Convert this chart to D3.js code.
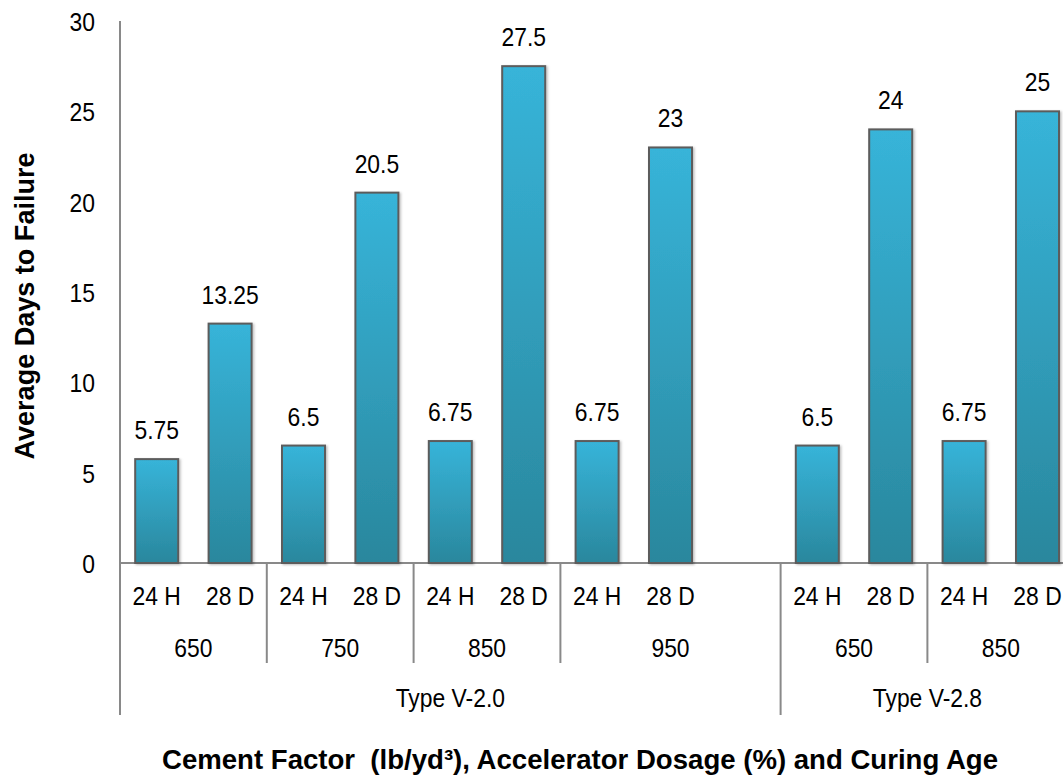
<!DOCTYPE html>
<html>
<head>
<meta charset="utf-8">
<script src="https://cdn.jsdelivr.net/npm/d3@7"></script>
<style>
  html, body { margin: 0; padding: 0; background: #fff; }
  svg { display: block; }
  text { font-family: "Liberation Sans Narrow", "Arial Narrow", "Liberation Sans", Arial, sans-serif; fill: #000; }
</style>
</head>
<body>
<svg id="chart" width="1063" height="781"></svg>
<script>
// Curing age per slot (the empty slot keeps the gap after the 950 group)
const ageLabels = ["24 H", "28 D", "24 H", "28 D", "24 H", "28 D", "24 H", "28 D", "", "24 H", "28 D", "24 H", "28 D"];
// Cement factor (lb/yd³) per slot
const cementLabels = ["650", "650", "750", "750", "850", "850", "950", "950", "950", "650", "650", "850", "850"];
// Accelerator type / dosage per slot
const typeLabels = ["Type V-2.0", "Type V-2.0", "Type V-2.0", "Type V-2.0", "Type V-2.0", "Type V-2.0", "Type V-2.0", "Type V-2.0", "Type V-2.0",
                    "Type V-2.8", "Type V-2.8", "Type V-2.8", "Type V-2.8"];
// Average days to failure per slot
const daysToFailure = [5.75, 13.25, 6.5, 20.5, 6.75, 27.5, 6.75, 23, null, 6.5, 24, 6.75, 25];
const yTicks = [0, 5, 10, 15, 20, 25, 30];

const svg = d3.select("#chart");
const x0 = 120, step = 73.4;
const slots = d3.range(ageLabels.length);
const labelSize = 26, squeeze = 0.88;

const x = d3.scaleBand()
  .domain(slots)
  .range([x0, x0 + step * slots.length])
  .paddingInner(0.414)
  .paddingOuter(0.207);

const y = d3.scaleLinear().domain([0, 30]).range([563, 21]);

// narrow the glyphs horizontally around each text's anchor point
function condense(sel, sx = squeeze) {
  sel.each(function () {
    const t = d3.select(this);
    const tx = +t.attr("x") || 0, ty = +t.attr("y") || 0;
    t.attr("x", 0).attr("y", 0)
      .attr("transform", `translate(${tx},${ty}) scale(${sx},1)`);
  });
}

// vertical gradient applied to each bar
const defs = svg.append("defs");
const grad = defs.append("linearGradient")
  .attr("id", "barFill").attr("x1", 0).attr("y1", 0).attr("x2", 0).attr("y2", 1);
grad.append("stop").attr("offset", "0%").attr("stop-color", "#37b4d9");
grad.append("stop").attr("offset", "100%").attr("stop-color", "#2a879d");

const shadow = defs.append("filter").attr("id", "barShadow")
  .attr("x", "-20%").attr("y", "-5%").attr("width", "140%").attr("height", "110%");
shadow.append("feDropShadow").attr("dx", 1.5).attr("dy", 1).attr("stdDeviation", 1.2)
  .attr("flood-color", "#000").attr("flood-opacity", 0.25);

// y axis labels (no tick marks)
const yAxis = svg.append("g")
  .attr("transform", `translate(${x0},0)`)
  .call(d3.axisLeft(y).tickValues(yTicks).tickSize(0).tickPadding(25));
yAxis.select(".domain").remove();
yAxis.selectAll("text")
  .attr("font-size", labelSize)
  .attr("font-family", null)
  .attr("dy", "0.36em")
  .call(condense);

// axis lines
const axisColor = "#898989";
svg.append("line")
  .attr("x1", x0).attr("x2", x0)
  .attr("y1", y(30)).attr("y2", 715)
  .attr("stroke", axisColor).attr("stroke-width", 2);
svg.append("line")
  .attr("x1", x0).attr("x2", x0 + step * slots.length)
  .attr("y1", y(0)).attr("y2", y(0))
  .attr("stroke", axisColor).attr("stroke-width", 2);

// bars
const barData = slots.filter(i => daysToFailure[i] != null);
svg.append("g").selectAll("rect")
  .data(barData)
  .join("rect")
  .attr("x", i => x(i))
  .attr("width", x.bandwidth())
  .attr("y", i => y(daysToFailure[i]))
  .attr("height", i => y(0) - y(daysToFailure[i]))
  .attr("fill", "url(#barFill)")
  .attr("stroke", "#5c5c5c")
  .attr("stroke-width", 2)
  .attr("filter", "url(#barShadow)");

// value labels
svg.append("g").selectAll("text")
  .data(barData)
  .join("text")
  .attr("x", i => x(i) + x.bandwidth() / 2)
  .attr("y", i => y(daysToFailure[i]) - 20)
  .attr("text-anchor", "middle")
  .attr("font-size", labelSize)
  .text(i => String(daysToFailure[i]))
  .call(condense);

// category rows
const slotCenter = i => x0 + step * (i + 0.5);
const slotEdge = i => x0 + step * i;

svg.append("g").selectAll("text")
  .data(slots.filter(i => ageLabels[i]))
  .join("text")
  .attr("x", slotCenter)
  .attr("y", 605)
  .attr("text-anchor", "middle")
  .attr("font-size", labelSize)
  .text(i => ageLabels[i])
  .call(condense);

// contiguous runs of equal labels, split at higher-level boundaries
function runs(keyFn) {
  const out = [];
  slots.forEach(i => {
    const k = keyFn(i);
    const last = out[out.length - 1];
    if (last && last.key === k) last.end = i + 1;
    else out.push({ key: k, start: i, end: i + 1 });
  });
  return out;
}
const cementRuns = runs(i => typeLabels[i] + "|" + cementLabels[i]);
const typeRuns = runs(i => typeLabels[i]);

svg.append("g").selectAll("text")
  .data(cementRuns)
  .join("text")
  .attr("x", r => (slotEdge(r.start) + slotEdge(r.end)) / 2)
  .attr("y", 657)
  .attr("text-anchor", "middle")
  .attr("font-size", labelSize)
  .text(r => r.key.split("|")[1])
  .call(condense);

svg.append("g").selectAll("text")
  .data(typeRuns)
  .join("text")
  .attr("x", r => (slotEdge(r.start) + slotEdge(r.end)) / 2)
  .attr("y", 707)
  .attr("text-anchor", "middle")
  .attr("font-size", labelSize)
  .text(r => r.key)
  .call(condense);

// separators between cement-factor groups
svg.append("g").selectAll("line")
  .data(cementRuns.slice(1).map(r => r.start).filter(s => typeLabels[s] === typeLabels[s - 1]))
  .join("line")
  .attr("x1", slotEdge).attr("x2", slotEdge)
  .attr("y1", y(0)).attr("y2", 663)
  .attr("stroke", axisColor).attr("stroke-width", 2);

// separators between type groups
svg.append("g").selectAll("line")
  .data(typeRuns.map(r => r.end))
  .join("line")
  .attr("x1", slotEdge).attr("x2", slotEdge)
  .attr("y1", y(0)).attr("y2", 715)
  .attr("stroke", axisColor).attr("stroke-width", 2);

// axis titles
svg.append("text")
  .attr("x", 580).attr("y", 769)
  .attr("text-anchor", "middle")
  .attr("font-size", 27)
  .attr("font-weight", "bold")
  .attr("textLength", 836)
  .attr("lengthAdjust", "spacingAndGlyphs")
  .style("white-space", "pre")
  .text("Cement Factor  (lb/yd³), Accelerator Dosage (%) and Curing Age");

svg.append("text")
  .attr("transform", "translate(34,306) rotate(-90)")
  .attr("text-anchor", "middle")
  .attr("font-size", 27)
  .attr("font-weight", "bold")
  .attr("textLength", 307)
  .attr("lengthAdjust", "spacingAndGlyphs")
  .text("Average Days to Failure");
</script>
</body>
</html>
